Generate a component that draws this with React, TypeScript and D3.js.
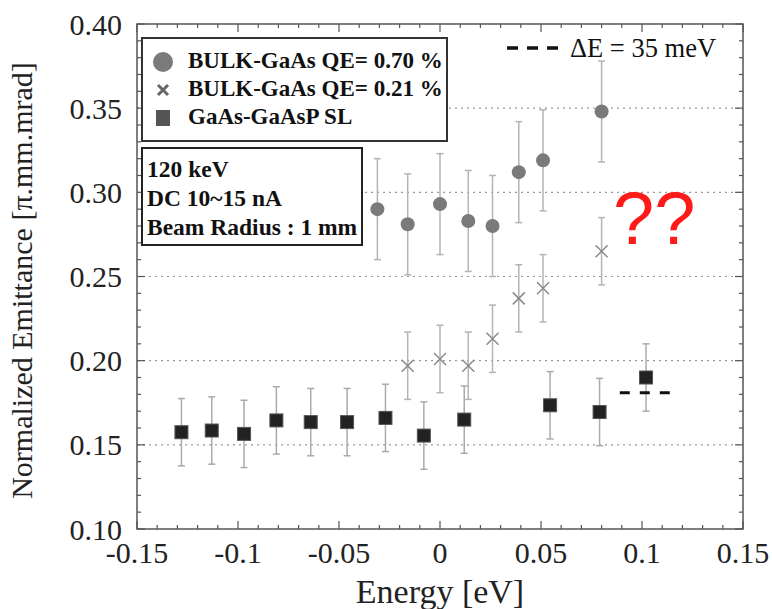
import { useRef, useEffect } from "react";
import * as d3 from "d3";

// QE = 0.70 % bulk GaAs (circles)
const bulkHighX = [-0.031, -0.016, 0.0, 0.014, 0.026, 0.039, 0.051, 0.08];
const bulkHighY = [0.29, 0.281, 0.293, 0.283, 0.28, 0.312, 0.319, 0.348];
const bulkHighErr = [0.03, 0.03, 0.03, 0.03, 0.03, 0.03, 0.03, 0.03];

// QE = 0.21 % bulk GaAs (crosses)
const bulkLowX = [-0.016, 0.0, 0.014, 0.026, 0.039, 0.051, 0.08];
const bulkLowY = [0.197, 0.201, 0.197, 0.213, 0.237, 0.243, 0.265];
const bulkLowErr = [0.02, 0.02, 0.02, 0.02, 0.02, 0.02, 0.02];

// GaAs-GaAsP superlattice (squares)
const slX = [-0.128, -0.113, -0.097, -0.081, -0.064, -0.046, -0.027, -0.008, 0.012, 0.0545, 0.079, 0.102];
const slY = [0.1575, 0.1585, 0.1565, 0.1645, 0.1635, 0.1635, 0.166, 0.1555, 0.165, 0.1735, 0.1695, 0.19];
const slErr = [0.02, 0.02, 0.02, 0.02, 0.02, 0.02, 0.02, 0.02, 0.02, 0.02, 0.02, 0.02];

// dashed marker, ΔE = 35 meV
const dEx = [0.089, 0.114];
const dEy = 0.181;

const xTicks = [-0.15, -0.1, -0.05, 0, 0.05, 0.1, 0.15];
const xTickLabels = ["-0.15", "-0.1", "-0.05", "0", "0.05", "0.1", "0.15"];
const yTicks = [0.1, 0.15, 0.2, 0.25, 0.3, 0.35, 0.4];
const gridY = [0.15, 0.2, 0.25, 0.3, 0.35];

const legendLabels = ["BULK-GaAs QE= 0.70 %", "BULK-GaAs QE= 0.21 %", "GaAs-GaAsP SL"];
const infoLines = ["120 keV", "DC 10~15 nA", "Beam Radius : 1 mm"];

export default function App() {
  const ref = useRef<SVGSVGElement>(null);

  function drawChart() {
    const svg = d3.select(ref.current);
    svg.selectAll("*").remove();

    const margin = { top: 24, right: 29, bottom: 80, left: 137 };
    const width = 772, height = 609;
    const serif = "'Liberation Serif', 'Times New Roman', serif";

    const x = d3.scaleLinear().domain([-0.15, 0.15]).range([margin.left, width - margin.right]);
    const y = d3.scaleLinear().domain([0.1, 0.4]).range([height - margin.bottom, margin.top]);

    const [x0, x1] = x.range();
    const [y0, y1] = y.range();

    // grid
    svg.append("g")
      .selectAll("line")
      .data(gridY)
      .join("line")
      .attr("x1", x0).attr("x2", x1)
      .attr("y1", (d) => y(d)).attr("y2", (d) => y(d))
      .attr("stroke", "#999")
      .attr("stroke-width", 1.2)
      .attr("stroke-dasharray", "2,4");

    // ticks, inward on all four sides
    const ticks = svg.append("g").attr("stroke", "#555").attr("stroke-width", 1.2);
    const xMinor = d3.range(-15, 16).map((i) => i / 100);
    const yMinor = d3.range(10, 41).map((i) => i / 100);
    const isMajor = (v: number) => Math.abs(v * 20 - Math.round(v * 20)) < 1e-6;
    xMinor.forEach((v) => {
      const len = isMajor(v) ? 8 : 4;
      ticks.append("line").attr("x1", x(v)).attr("x2", x(v)).attr("y1", y0).attr("y2", y0 - len);
      ticks.append("line").attr("x1", x(v)).attr("x2", x(v)).attr("y1", y1).attr("y2", y1 + len);
    });
    yMinor.forEach((v) => {
      const len = isMajor(v) ? 8 : 4;
      ticks.append("line").attr("y1", y(v)).attr("y2", y(v)).attr("x1", x0).attr("x2", x0 + len);
      ticks.append("line").attr("y1", y(v)).attr("y2", y(v)).attr("x1", x1).attr("x2", x1 - len);
    });

    // frame
    svg.append("rect")
      .attr("x", x0).attr("y", y1)
      .attr("width", x1 - x0).attr("height", y0 - y1)
      .attr("fill", "none")
      .attr("stroke", "#555")
      .attr("stroke-width", 1.5);

    // tick labels
    svg.append("g")
      .selectAll("text")
      .data(xTicks)
      .join("text")
      .attr("x", (d) => x(d))
      .attr("y", y0 + 34)
      .attr("text-anchor", "middle")
      .attr("font-family", serif)
      .attr("font-size", 30)
      .attr("fill", "#222")
      .text((d, i) => xTickLabels[i]);

    svg.append("g")
      .selectAll("text")
      .data(yTicks)
      .join("text")
      .attr("x", x0 - 15)
      .attr("y", (d) => y(d))
      .attr("dy", "0.35em")
      .attr("text-anchor", "end")
      .attr("font-family", serif)
      .attr("font-size", 30)
      .attr("fill", "#222")
      .text((d) => d3.format(".2f")(d));

    // axis titles
    svg.append("text")
      .attr("x", x(0))
      .attr("y", 603)
      .attr("text-anchor", "middle")
      .attr("font-family", serif)
      .attr("font-size", 34)
      .attr("fill", "#222")
      .text("Energy [eV]");

    svg.append("text")
      .attr("transform", `translate(32,${(y0 + y1) / 2 + 4}) rotate(-90)`)
      .attr("text-anchor", "middle")
      .attr("font-family", serif)
      .attr("font-size", 30)
      .attr("fill", "#222")
      .text("Normalized Emittance [π.mm.mrad]");

    // error bars
    function errorBars(xs: number[], ys: number[], es: number[], color: string) {
      const g = svg.append("g").attr("stroke", color).attr("stroke-width", 1.5);
      xs.forEach((xv, i) => {
        const cx = x(xv);
        const top = y(ys[i] + es[i]);
        const bot = y(ys[i] - es[i]);
        g.append("line").attr("x1", cx).attr("x2", cx).attr("y1", top).attr("y2", bot);
        g.append("line").attr("x1", cx - 3.5).attr("x2", cx + 3.5).attr("y1", top).attr("y2", top);
        g.append("line").attr("x1", cx - 3.5).attr("x2", cx + 3.5).attr("y1", bot).attr("y2", bot);
      });
    }
    errorBars(bulkHighX, bulkHighY, bulkHighErr, "#b4b4b4");
    errorBars(bulkLowX, bulkLowY, bulkLowErr, "#b4b4b4");
    errorBars(slX, slY, slErr, "#aaa");

    // circles
    svg.append("g")
      .selectAll("circle")
      .data(bulkHighX)
      .join("circle")
      .attr("cx", (d) => x(d))
      .attr("cy", (d, i) => y(bulkHighY[i]))
      .attr("r", 7)
      .attr("fill", "#7a7a7a");

    // crosses
    const cr = 6;
    const crossG = svg.append("g").attr("stroke", "#8a8a8a").attr("stroke-width", 1.5);
    bulkLowX.forEach((xv, i) => {
      const cx = x(xv), cy = y(bulkLowY[i]);
      crossG.append("line").attr("x1", cx - cr).attr("x2", cx + cr).attr("y1", cy - cr).attr("y2", cy + cr);
      crossG.append("line").attr("x1", cx - cr).attr("x2", cx + cr).attr("y1", cy + cr).attr("y2", cy - cr);
    });

    // squares
    svg.append("g")
      .selectAll("rect")
      .data(slX)
      .join("rect")
      .attr("x", (d) => x(d) - 6.5)
      .attr("y", (d, i) => y(slY[i]) - 6.5)
      .attr("width", 13)
      .attr("height", 13)
      .attr("fill", "#222")
      .attr("stroke", "#555")
      .attr("stroke-width", 1);

    // ΔE dashed segment
    svg.append("line")
      .attr("x1", x(dEx[0])).attr("x2", x(dEx[1]))
      .attr("y1", y(dEy)).attr("y2", y(dEy))
      .attr("stroke", "#111")
      .attr("stroke-width", 3)
      .attr("stroke-dasharray", "10,10");

    // legend box
    svg.append("rect")
      .attr("x", 142).attr("y", 38).attr("width", 305).attr("height", 103)
      .attr("fill", "#fff").attr("stroke", "#333").attr("stroke-width", 2);
    const legY = [62, 90, 118];
    svg.append("circle").attr("cx", 163).attr("cy", legY[0]).attr("r", 10).attr("fill", "#7a7a7a");
    svg.append("path")
      .attr("d", `M${158},${legY[1] - 5}L${168},${legY[1] + 5}M${158},${legY[1] + 5}L${168},${legY[1] - 5}`)
      .attr("stroke", "#666").attr("stroke-width", 3);
    svg.append("rect").attr("x", 156).attr("y", legY[2] - 8).attr("width", 14).attr("height", 16).attr("fill", "#555");
    svg.append("g")
      .selectAll("text")
      .data(legendLabels)
      .join("text")
      .attr("x", 188)
      .attr("y", (d, i) => legY[i] + 6)
      .attr("font-family", serif)
      .attr("font-weight", "bold")
      .attr("font-size", 23)
      .attr("fill", "#111")
      .text((d) => d);

    // info box
    svg.append("rect")
      .attr("x", 142).attr("y", 148).attr("width", 220).attr("height", 97)
      .attr("fill", "#fff").attr("stroke", "#222").attr("stroke-width", 2);
    svg.append("g")
      .selectAll("text")
      .data(infoLines)
      .join("text")
      .attr("x", 147)
      .attr("y", (d, i) => [177, 206, 235][i])
      .attr("font-family", serif)
      .attr("font-weight", "bold")
      .attr("font-size", 23.5)
      .attr("fill", "#111")
      .text((d) => d);

    // ΔE legend
    svg.append("line")
      .attr("x1", 507).attr("x2", 559).attr("y1", 48).attr("y2", 48)
      .attr("stroke", "#111").attr("stroke-width", 3.5)
      .attr("stroke-dasharray", "11,9");
    svg.append("text")
      .attr("x", 570).attr("y", 57)
      .attr("font-family", serif)
      .attr("font-size", 26.5)
      .attr("fill", "#111")
      .text("ΔE = 35 meV");

    // red question marks
    svg.append("text")
      .attr("x", 613).attr("y", 244)
      .attr("font-family", "'Liberation Sans', Arial, sans-serif")
      .attr("font-size", 74)
      .attr("fill", "#ff1a1a")
      .text("??");
  }

  useEffect(drawChart, []);
  return (
    <svg
      ref={ref}
      width={772}
      height={609}
      style={{ position: "absolute", left: 0, top: 0, background: "#fff" }}
    />
  );
}
